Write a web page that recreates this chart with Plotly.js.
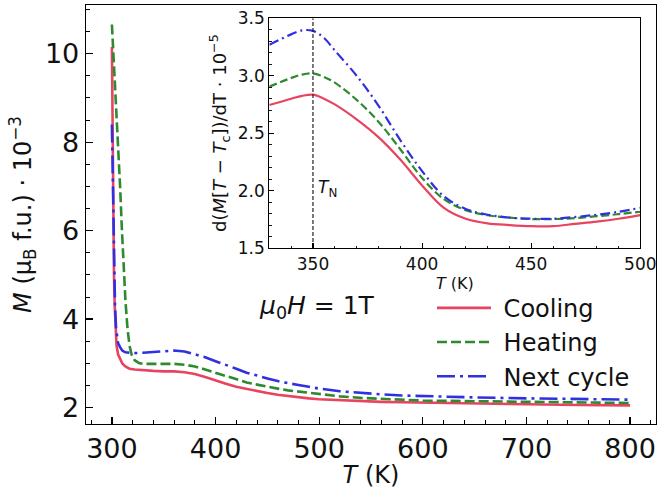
<!DOCTYPE html>
<html>
<head>
<meta charset="utf-8">
<script src="https://cdn.plot.ly/plotly-3.0.1.min.js"></script>
<style>html,body{margin:0;padding:0;background:#fff;}#chart{width:657px;height:489px;}</style>
</head>
<body>
<div id="chart"></div>
<script>
// ---- Main panel data: M vs T ----
const seriesNames = ["Cooling", "Heating", "Next cycle"];

const coolT = [300, 300.7, 301.3, 302, 302.7, 303.5, 304.5, 306, 308, 310, 313, 317, 322, 330, 340, 350, 360, 370, 380, 390, 400, 410, 420, 430, 440, 450, 460, 470, 480, 490, 500, 520, 540, 560, 580, 600, 650, 700, 750, 800];
const coolM = [10.15, 8.0, 6.3, 5.0, 4.3, 3.8, 3.4, 3.2, 3.08, 3.0, 2.93, 2.88, 2.86, 2.84, 2.83, 2.82, 2.82, 2.80, 2.76, 2.69, 2.61, 2.54, 2.47, 2.42, 2.37, 2.33, 2.29, 2.26, 2.23, 2.21, 2.19, 2.165, 2.145, 2.13, 2.12, 2.11, 2.09, 2.075, 2.06, 2.05];

const heatT = [300, 302, 304, 306, 308, 309.5, 311, 313, 315, 317, 319, 322, 326, 330, 340, 350, 360, 370, 380, 390, 400, 410, 420, 430, 440, 450, 460, 470, 480, 490, 500, 520, 540, 560, 580, 600, 650, 700, 750, 800];
const heatM = [10.66, 9.8, 8.9, 7.95, 6.95, 6.1, 5.3, 4.44, 3.8, 3.4, 3.2, 3.07, 3.01, 2.99, 2.99, 2.99, 2.99, 2.97, 2.93, 2.86, 2.79, 2.71, 2.64, 2.57, 2.52, 2.47, 2.43, 2.39, 2.36, 2.33, 2.30, 2.255, 2.22, 2.195, 2.175, 2.16, 2.145, 2.13, 2.115, 2.105];

const nextT = [300, 301, 302, 303, 304, 305, 306, 308, 310, 313, 316, 320, 330, 340, 350, 360, 370, 380, 390, 400, 410, 420, 430, 440, 450, 460, 470, 480, 490, 500, 520, 540, 560, 580, 600, 650, 700, 750, 800];
const nextM = [8.4, 6.6, 5.2, 4.3, 3.8, 3.55, 3.45, 3.36, 3.29, 3.25, 3.24, 3.23, 3.24, 3.26, 3.28, 3.29, 3.27, 3.21, 3.14, 3.05, 2.97, 2.88, 2.79, 2.72, 2.66, 2.60, 2.55, 2.51, 2.47, 2.43, 2.37, 2.33, 2.30, 2.275, 2.26, 2.23, 2.21, 2.195, 2.18];

// ---- Inset data: d(M[T - Tc])/dT ----
const insetT = [330, 340, 345, 350, 355, 360, 370, 380, 390, 400, 410, 420, 430, 440, 450, 460, 470, 480, 490, 500];
const insetCool = [2.745, 2.80, 2.825, 2.835, 2.80, 2.75, 2.62, 2.465, 2.27, 2.045, 1.85, 1.755, 1.715, 1.70, 1.69, 1.69, 1.71, 1.73, 1.755, 1.787];
const insetHeat = [2.905, 2.98, 3.01, 3.02, 2.99, 2.94, 2.79, 2.60, 2.36, 2.11, 1.925, 1.83, 1.785, 1.765, 1.752, 1.752, 1.76, 1.777, 1.795, 1.816];
const insetNext = [3.27, 3.36, 3.395, 3.39, 3.33, 3.22, 3.00, 2.74, 2.44, 2.17, 1.95, 1.84, 1.79, 1.765, 1.755, 1.755, 1.77, 1.79, 1.815, 1.85];

// Néel temperature marker
const TN = 350;
const tnLineX = [TN, TN];
const tnLineY = [1.5, 3.5];

// tick values
const mainXTicks = [300, 400, 500, 600, 700, 800];
const mainYTicks = [2, 4, 6, 8, 10];
const insetXTicks = [350, 400, 450, 500];
const insetYTicks = [1.5, 2.0, 2.5, 3.0, 3.5];

const cRed = '#e8435f', cGreen = '#2f8a2f', cBlue = '#3030e0';
const FONT = 'DejaVu Sans, Liberation Sans, sans-serif';

const traces = [
  {x: coolT, y: coolM, name: '\u00a0' + seriesNames[0], mode: 'lines', line: {color: cRed, width: 2.6}},
  {x: heatT, y: heatM, name: '\u00a0' + seriesNames[1], mode: 'lines', line: {color: cGreen, width: 2.6, dash: '10px,4px'}},
  {x: nextT, y: nextM, name: '\u00a0' + seriesNames[2], mode: 'lines', line: {color: cBlue, width: 2.6, dash: '18px,5px,3px,5px'}},
  {x: insetT, y: insetCool, xaxis: 'x2', yaxis: 'y2', mode: 'lines', showlegend: false, line: {color: cRed, width: 2.2, shape: 'spline'}},
  {x: insetT, y: insetHeat, xaxis: 'x2', yaxis: 'y2', mode: 'lines', showlegend: false, line: {color: cGreen, width: 2.2, dash: '8px,3.5px', shape: 'spline'}},
  {x: insetT, y: insetNext, xaxis: 'x2', yaxis: 'y2', mode: 'lines', showlegend: false, line: {color: cBlue, width: 2.2, dash: '10px,4px,2px,4px', shape: 'spline'}},
  {x: tnLineX, y: tnLineY, xaxis: 'x2', yaxis: 'y2', mode: 'lines', showlegend: false, line: {color: '#222', width: 1.2, dash: '4px,2px'}}
];

const axMain = {
  showline: true, linecolor: '#000', linewidth: 1.3, mirror: true,
  ticks: 'inside', ticklen: 7, tickwidth: 1.3, tickcolor: '#000',
  showgrid: false, zeroline: false,
  tickfont: {family: FONT, size: 27, color: '#111'}
};
const axInset = {
  showline: true, linecolor: '#000', linewidth: 1.1, mirror: true,
  ticks: 'inside', ticklen: 5, tickwidth: 1.1, tickcolor: '#000',
  showgrid: false, zeroline: false,
  tickfont: {family: FONT, size: 17, color: '#111'}
};

const layout = {
  width: 657, height: 489,
  margin: {l: 86, r: 1, t: 5, b: 65},
  paper_bgcolor: '#fff', plot_bgcolor: '#fff',
  font: {family: FONT, color: '#111'},
  xaxis: Object.assign({}, axMain, {
    range: [275, 825], tickvals: mainXTicks,
    minor: {dtick: 20, tick0: 0, ticks: 'inside', ticklen: 4, tickwidth: 1, tickcolor: '#000'},
    title: {text: '<i>T</i> (K)', font: {family: FONT, size: 24, color: '#111'}, standoff: 2}
  }),
  yaxis: Object.assign({}, axMain, {
    range: [1.63, 11.1], tickvals: mainYTicks,
    minor: {dtick: 0.5, tick0: 0, ticks: 'inside', ticklen: 4, tickwidth: 1, tickcolor: '#000'},
    title: {text: '<i>M</i> (μ<sub>B</sub> f.u.) · 10<sup>−3</sup>', font: {family: FONT, size: 24, color: '#111'}, standoff: 6}
  }),
  xaxis2: Object.assign({}, axInset, {
    domain: [0.3216, 0.9725], anchor: 'y2', range: [330, 500], tickvals: insetXTicks,
    minor: {dtick: 10, tick0: 0, ticks: 'inside', ticklen: 2.5, tickwidth: 0.9, tickcolor: '#000'},
    title: {text: '<i>T</i> (K)', font: {family: FONT, size: 16, color: '#111'}, standoff: 2}
  }),
  yaxis2: Object.assign({}, axInset, {
    domain: [0.42, 0.9683], anchor: 'x2', range: [1.5, 3.5], tickvals: insetYTicks, tickformat: '.1f',
    minor: {dtick: 0.1, tick0: 0, ticks: 'inside', ticklen: 2.5, tickwidth: 0.9, tickcolor: '#000'},
    title: {text: 'd(<i>M</i>[<i>T</i> − <i>T</i><sub>c</sub>])/dT · 10<sup>−5</sup>', font: {family: FONT, size: 18, color: '#111'}, standoff: 6}
  }),
  legend: {
    x: 0.607, y: 0.33, xanchor: 'left', yanchor: 'top',
    bgcolor: 'rgba(0,0,0,0)', font: {family: FONT, size: 24, color: '#111'},
    itemwidth: 54, tracegroupgap: 0
  },
  annotations: [
    {xref: 'x', yref: 'y', x: 440, y: 4.28, text: '<i>μ</i><sub>0</sub><i>H</i> = 1T', showarrow: false,
     xanchor: 'left', yanchor: 'middle', font: {family: FONT, size: 25, color: '#111'}},
    {xref: 'x2', yref: 'y2', x: TN + 1.2, y: 2.02, text: '<i>T</i><sub>N</sub>', showarrow: false,
     xanchor: 'left', yanchor: 'middle', font: {family: FONT, size: 17, color: '#111'}}
  ],
  showlegend: true
};

Plotly.newPlot('chart', traces, layout, {displayModeBar: false, staticPlot: true});
</script>
</body>
</html>
